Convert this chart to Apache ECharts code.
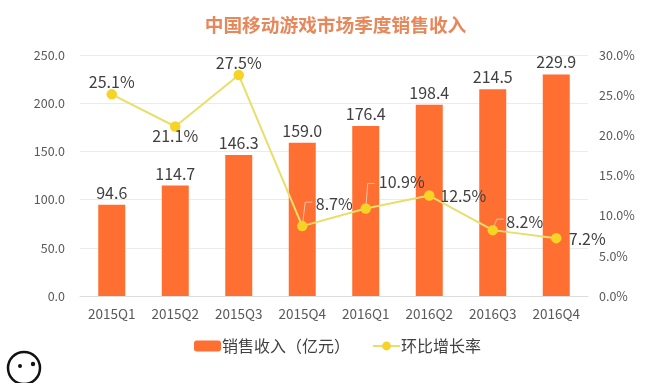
<!DOCTYPE html>
<html><head><meta charset="utf-8">
<style>html,body{margin:0;padding:0;background:#fff}#c{width:671px;height:383px}</style>
<script src="https://cdn.jsdelivr.net/npm/echarts@6/dist/echarts.min.js"></script>
</head><body><div id="c"></div>
<script>
const categories = ['2015Q1','2015Q2','2015Q3','2015Q4','2016Q1','2016Q2','2016Q3','2016Q4'];
const revenue = [94.6,114.7,146.3,159.0,176.4,198.4,214.5,229.9];
const growth = [25.1,21.1,27.5,8.7,10.9,12.5,8.2,7.2];
const leftTicks = {min:0,max:250,interval:50};
const rightTicks = {min:0,max:30,interval:5};
// label placement relative to the point, kept apart from the values
const labelShift = [[0,7],[0,29],[0,7],[32,-3],[36,-7],[34,20],[32,11],[31,20]];
// elbow of each leader line relative to the point; null means no leader
const leaderElbow = [null,null,null,[3,-24],[2,-25],null,[4,-11],null];
const font = '"Noto Sans CJK SC","Noto Sans",sans-serif';
const chart = echarts.init(document.getElementById('c'),null,{renderer:'canvas'});
chart.setOption({
  animation:false,
  backgroundColor:'#fff',
  textStyle:{fontFamily:font},
  title:{text:'中国移动游戏市场季度销售收入',left:'center',top:11,
    textStyle:{fontFamily:font,fontSize:18.7,fontWeight:'bold',color:'#e8875a'}},
  legend:{bottom:24,left:189,itemGap:22,itemWidth:27,itemHeight:11,
    textStyle:{fontFamily:font,fontSize:16,color:'#404040',padding:[0,0,0,-4]},
    data:['销售收入（亿元）','环比增长率']},
  grid:{left:80,right:83,top:55,bottom:87},
  xAxis:{type:'category',data:categories,
    axisTick:{show:false},axisLine:{lineStyle:{color:'#dddddd'}},
    axisLabel:{color:'#595959',fontSize:13.5,margin:11,interval:0}},
  yAxis:[
    {type:'value',...leftTicks,axisLine:{show:false},axisTick:{show:false},
     splitLine:{lineStyle:{color:'#ebebeb'}},
     axisLabel:{color:'#595959',fontSize:12.5,margin:15,formatter:v=>v.toFixed(1)}},
    {type:'value',...rightTicks,axisLine:{show:false},axisTick:{show:false},splitLine:{show:false},
     axisLabel:{color:'#595959',fontSize:12.5,margin:11,formatter:v=>v.toFixed(1)+'%'}}
  ],
  series:[
    {name:'销售收入（亿元）',type:'bar',data:revenue,barWidth:27,
     itemStyle:{color:'#ff6f31'},
     label:{show:true,position:'top',distance:4,fontSize:16,color:'#404040',fontFamily:font,
       formatter:p=>p.value.toFixed(1)}},
    {name:'leaders',type:'custom',yAxisIndex:1,z:4,silent:true,
     data:growth.map((v,i)=>[i,v]),
     renderItem:(params,api)=>{
       const e=leaderElbow[params.dataIndex];
       if(!e) return null;
       const p=api.coord([api.value(0),api.value(1)]);
       return {type:'polyline',
         shape:{points:[p,[p[0]+e[0],p[1]+e[1]],[p[0]+e[0]+7,p[1]+e[1]]]},
         style:{fill:'none',stroke:'#e6c3ad',lineWidth:1}};
     }},
    {name:'环比增长率',type:'line',yAxisIndex:1,data:growth,
     symbol:'circle',symbolSize:10.5,
     lineStyle:{color:'#e8df6a',width:2},
     itemStyle:{color:'#f5d327'},
     z:5,
     label:{show:true,position:'top',distance:6,fontSize:16,color:'#404040',fontFamily:font,
       formatter:p=>p.value.toFixed(1)+'%'},
     labelLayout:p=>({dx:labelShift[p.dataIndex][0],dy:labelShift[p.dataIndex][1]})}
  ],
  graphic:[
    {type:'circle',shape:{cx:24,cy:368,r:16},style:{fill:'none',stroke:'#111',lineWidth:2.5},silent:true},
    {type:'circle',shape:{cx:20,cy:366,r:2},style:{fill:'#111'},silent:true},
    {type:'circle',shape:{cx:33,cy:364,r:2.2},style:{fill:'#111'},silent:true}
  ]
});
</script></body></html>
